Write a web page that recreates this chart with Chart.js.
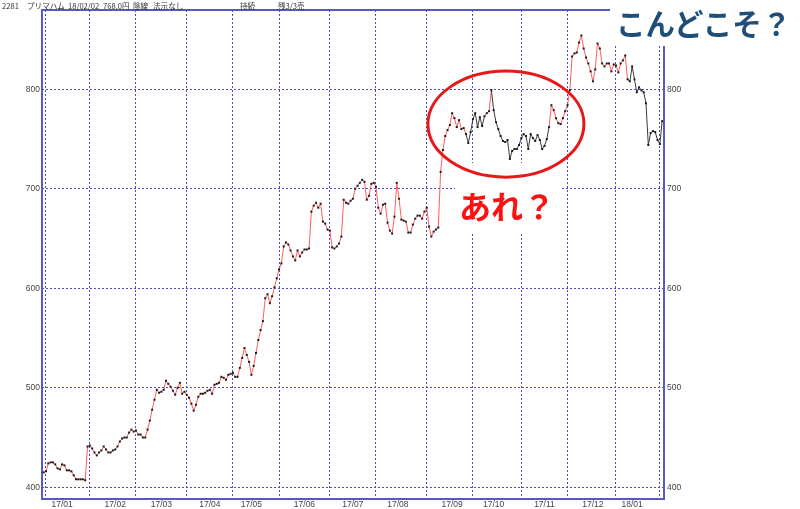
<!DOCTYPE html>
<html lang="ja">
<head>
<meta charset="utf-8">
<title>2281 プリマハム</title>
<script src="https://cdn.jsdelivr.net/npm/chart.js@4.4.1/dist/chart.umd.min.js"></script>
<style>
    html, body { margin: 0; padding: 0; background: #fff; }
    #wrap { position: relative; width: 800px; height: 509px; overflow: hidden; }
    #price-chart { position: absolute; left: 0; top: 0; }
    .hdr { position: absolute; top: 1px; font: 7.6px/10px "Noto Sans CJK JP", sans-serif; color: #333; white-space: nowrap; }
    .note { position: absolute; font-family: "Noto Sans CJK JP", sans-serif; font-weight: 700; line-height: 1; white-space: nowrap; }
    #note-are { left: 459px; top: 189px; color: #ff1010; font-size: 32px; }
    #note-kondo { left: 616px; top: 8px; color: #1f4e79; font-size: 29.5px; }
</style>
</head>
<body>
<div id="wrap">
    <canvas id="price-chart" width="800" height="509"></canvas>
    <span class="hdr" style="left:2px">2281</span>
    <span class="hdr" style="left:27px">プリマハム</span>
    <span class="hdr" style="left:68px">18/02/02</span>
    <span class="hdr" style="left:103px">768.0円</span>
    <span class="hdr" style="left:133px">陰線</span>
    <span class="hdr" style="left:153px">法示なし</span>
    <span class="hdr" style="left:240px">持続</span>
    <span class="hdr" style="left:278px">残3/3売</span>
    <div class="note" id="note-are">あれ？</div>
    <div class="note" id="note-kondo">こんどこそ？</div>
</div>
<script>
// Daily closes, one row per month (first value is the last session of 2016)
const firstIdx = -1;
const closes = [
    415,
    416, 424, 425, 425, 423, 419, 418, 423, 422, 417, 417, 416, 412, 408, 408, 408, 408, 407, 441,
    442, 439, 435, 432, 435, 437, 441, 438, 435, 435, 437, 438, 441, 446, 449, 450, 450, 455, 458, 456,
    457, 453, 453, 450, 450, 458, 467, 478, 488, 498, 495, 496, 498, 507, 504, 501, 497, 493, 500, 505, 494, 496,
    493, 490, 484, 477, 483, 491, 494, 494, 495, 497, 498, 494, 503, 504, 505, 511, 510, 508, 513, 514,
    515, 511, 511, 520, 530, 540, 533, 526, 513, 522, 535, 548, 558, 567, 590, 594, 585, 592, 601, 610,
    619, 625, 642, 646, 644, 638, 632, 628, 638, 632, 636, 639, 639, 640, 677, 683, 686, 681, 685, 667, 665, 659,
    658, 641, 640, 642, 645, 652, 689, 686, 685, 688, 690, 700, 703, 706, 709, 707, 689, 693, 705, 706,
    702, 681, 675, 684, 685, 666, 658, 655, 672, 706, 690, 669, 668, 667, 656, 656, 664, 670, 673, 673, 670, 677,
    681, 662, 652, 657, 659, 661, 717, 739, 753, 759, 764, 776, 771, 762, 769, 760, 761, 755, 746, 757,
    770, 776, 762, 772, 763, 773, 776, 778, 799, 779, 767, 760, 753, 748, 747, 749, 730, 738, 740, 740, 744,
    751, 755, 753, 740, 755, 751, 748, 754, 749, 740, 743, 750, 762, 784, 779, 771, 766, 765, 771, 778,
    784, 799, 833, 836, 837, 847, 854, 841, 832, 826, 818, 808, 820, 846, 841, 826, 823, 826, 826, 818, 825,
    824, 817, 826, 829, 834, 810, 808, 823, 810, 797, 802, 799, 797, 786, 744, 756, 758, 757, 749, 745, 768
];

// Session index where each month starts, and where its label sits
const monthStarts = [0, 19, 39, 61, 81, 101, 123, 143, 165, 185, 206, 226, 247, 266];
const monthLabels = ['17/01', '17/02', '17/03', '17/04', '17/05', '17/06', '17/07',
                     '17/08', '17/09', '17/10', '17/11', '17/12', '18/01'];
const labelPos = [7, 30, 50, 71, 89, 112, 133, 152.5, 176, 194, 216, 237, 254];

// Price ticks
const yTicks = [400, 500, 600, 700, 800];

// Sessions drawn in black (sell signal runs), [from, to)
const downRuns = [[182, 190], [193, 218], [252, 267]];

// Red ring drawn around the autumn range
const ring = { center: 199.3, value: 765, halfDays: 33.8, halfPrice: 53.3 };

// White patches behind the two notes (canvas pixels)
const notePatches = [
    { x: 455, y: 163, w: 107, h: 69 },
    { x: 610, y: 0, w: 190, h: 46 }
];

const gridColor = '#4b4bbb';
const frameColor = '#5858c4';
const upColor = '#ff5c5c';
const downColor = '#3a3a3a';

function isDown(i) {
    return downRuns.some(r => i >= r[0] && i < r[1]);
}

const framePlugin = {
    id: 'frame',
    // frame first, then the note patches, so the line stays on top
    beforeDatasetsDraw(chart) {
        const { ctx, chartArea: a } = chart;
        ctx.save();
        ctx.strokeStyle = frameColor;
        ctx.lineWidth = 2;
        ctx.strokeRect(a.left, a.top, a.right - a.left, a.bottom - a.top);
        ctx.fillStyle = '#fff';
        notePatches.forEach(p => ctx.fillRect(p.x, p.y, p.w, p.h));
        ctx.restore();
    },
    afterDraw(chart) {
        const { ctx, scales } = chart;
        const cx = scales.x.getPixelForValue(ring.center);
        const cy = scales.y.getPixelForValue(ring.value);
        const rx = scales.x.getPixelForValue(ring.center + ring.halfDays) - cx;
        const ry = cy - scales.y.getPixelForValue(ring.value + ring.halfPrice);
        ctx.save();
        ctx.beginPath();
        ctx.ellipse(cx, cy, rx, ry, 0, 0, Math.PI * 2);
        ctx.strokeStyle = '#e81818';
        ctx.lineWidth = 3;
        ctx.stroke();
        ctx.restore();
    }
};

const tickFont = { family: 'Liberation Sans', size: 8.5 };

const yAxis = (position) => ({
    type: 'linear',
    position: position,
    min: 388.2,
    max: 879.7,
    afterBuildTicks: (scale) => { scale.ticks = yTicks.map(v => ({ value: v })); },
    afterFit: (scale) => { scale.width = position === 'left' ? 42 : 136; },
    grid: { color: gridColor, lineWidth: 1, drawTicks: false, drawOnChartArea: position === 'left' },
    border: { display: false, dash: [2, 2] },
    ticks: { color: '#444', font: tickFont, padding: position === 'left' ? 2 : 3 }
});

new Chart(document.getElementById('price-chart'), {
    type: 'line',
    data: {
        datasets: [{
            data: closes.map((c, j) => ({ x: j + firstIdx, y: c })),
            borderWidth: 1,
            borderColor: upColor,
            segment: {
                borderColor: (ctx) => isDown(ctx.p0DataIndex + firstIdx) ? downColor : upColor
            },
            pointStyle: 'rect',
            pointRadius: 1.4,
            pointBackgroundColor: '#1a1a1a',
            pointBorderWidth: 0,
            tension: 0
        }]
    },
    options: {
        responsive: false,
        animation: false,
        layout: { padding: { top: 10, left: 0, right: 0, bottom: 0 } },
        plugins: { legend: { display: false }, tooltip: { enabled: false } },
        scales: {
            x: {
                type: 'linear',
                min: -1.73,
                max: 267.8,
                afterBuildTicks: (scale) => {
                    scale.ticks = monthStarts.map(v => ({ value: v, month: true }))
                        .concat(labelPos.map((v, k) => ({ value: v, name: monthLabels[k] })));
                },
                afterFit: (scale) => { scale.height = 10; },
                grid: {
                    color: (ctx) => (ctx.tick && ctx.tick.month) ? gridColor : 'rgba(0,0,0,0)',
                    lineWidth: 1,
                    drawTicks: false
                },
                border: { display: false, dash: [2, 2] },
                ticks: {
                    autoSkip: false,
                    maxRotation: 0,
                    minRotation: 0,
                    padding: 1,
                    color: '#444',
                    font: tickFont,
                    callback: (value, i, ticks) => ticks[i].name || ''
                }
            },
            y: yAxis('left'),
            y2: yAxis('right')
        }
    },
    plugins: [framePlugin]
});
</script>
</body>
</html>
